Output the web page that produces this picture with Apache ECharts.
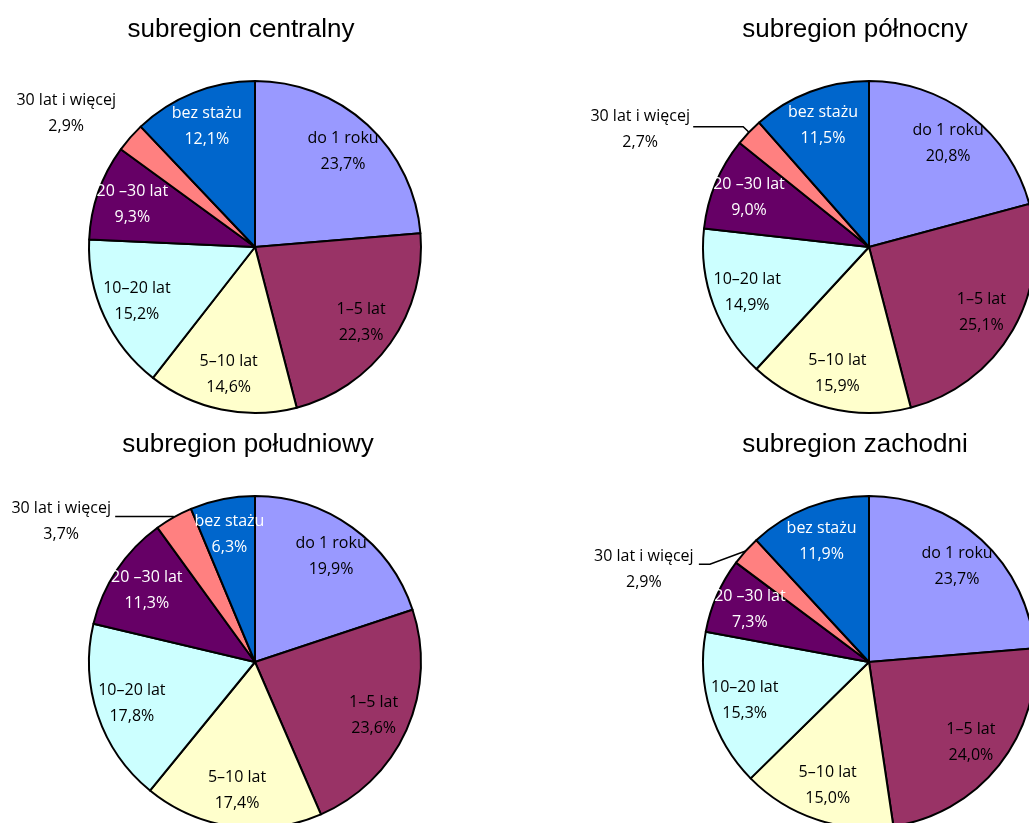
<!DOCTYPE html>
<html>
<head>
<meta charset="utf-8">
<script src="https://cdn.jsdelivr.net/npm/echarts@6/dist/echarts.min.js"></script>
<style>
html,body{margin:0;padding:0;background:#fff;}
#chart{width:1029px;height:823px;}
</style>
</head>
<body>
<div id="chart"></div>
<script>
// ---- data ----
const categories = ['do 1 roku', '1–5 lat', '5–10 lat', '10–20 lat', '20 –30 lat', '30 lat i więcej', 'bez stażu'];
const titles = ['subregion centralny', 'subregion północny', 'subregion południowy', 'subregion zachodni'];
const centralny = [23.7, 22.3, 14.6, 15.2, 9.3, 2.9, 12.1];
const polnocny = [20.8, 25.1, 15.9, 14.9, 9.0, 2.7, 11.5];
const poludniowy = [19.9, 23.6, 17.4, 17.8, 11.3, 3.7, 6.3];
const zachodni = [23.7, 24.0, 15.0, 15.3, 7.3, 2.9, 11.9];
const seriesValues = [centralny, polnocny, poludniowy, zachodni];

// ---- styles / layout ----
const colors = ['#9999FF', '#993366', '#FFFFCC', '#CCFFFF', '#660066', '#FF8080', '#0066CC'];
const labelColors = ['#000', '#000', '#000', '#000', '#fff', '#000', '#fff'];
const outsideIndex = 5;
const layouts = [
  {center: [255, 247], title: [241, 17], len: 24, len2: 0, line: false, top: 0, bottom: 17, dist: -5, bend: false},
  {center: [869, 247], title: [855, 17], len: 8, len2: 50, line: true, top: 6, bottom: 0, dist: 2, bend: false},
  {center: [255, 662], title: [248, 432], len: 1, len2: 58, line: true, top: 11, bottom: 0, dist: 3, bend: false},
  {center: [869, 662], title: [855, 432], len: 1, len2: 48, line: true, top: 38, bottom: 0, dist: 2, bend: true}
];
const R = 166;
const labelFont = 'Open Sans';
const fmt = v => v.toFixed(1).replace('.', ',') + '%';

const series = [];
seriesValues.forEach((vals, k) => {
  const L = layouts[k];
  const s = {
    type: 'pie',
    center: L.center,
    radius: [0, R],
    startAngle: 90,
    clockwise: true,
    avoidLabelOverlap: false,
    silent: true,
    animation: false,
    itemStyle: {borderColor: '#000', borderWidth: 2},
    label: {show: false},
    labelLine: {show: false},
    emphasis: {disabled: true},
    data: vals.map((v, i) => {
      const item = {name: categories[i], value: v, itemStyle: {color: colors[i]}};
      if (i === outsideIndex) {
        item.label = {
          show: true, position: 'outside', alignTo: 'none',
          distanceToLabelLine: L.dist, bleedMargin: 0, overflow: 'none',
          formatter: p => {
            let t = '{a|' + p.name + '}\n{a|' + fmt(p.value) + '}';
            if (L.top) t = '{t| }\n' + t;
            if (L.bottom) t = t + '\n{b| }';
            return t;
          },
          rich: {
            a: {fontFamily: labelFont, fontSize: 16, lineHeight: 26, color: '#000', width: 102, align: 'center'},
            t: {fontSize: 1, lineHeight: L.top || 1, height: L.top || 1},
            b: {fontSize: 1, lineHeight: L.bottom || 1, height: L.bottom || 1}
          }
        };
        item.labelLine = {
          show: L.line, length: L.len, length2: L.len2, smooth: false,
          lineStyle: {color: '#000', width: 1.5}
        };
      }
      return item;
    })
  };
  if (L.bend) {
    // leader line bent down to the middle of the (shifted) text block
    s.labelLayout = function (p) {
      if (!p.labelLinePoints || !p.labelRect) return {hideOverlap: false};
      const r = p.labelRect;
      const yMid = r.y + r.height - 26;
      const xEnd = r.x + r.width + 4;
      return {
        hideOverlap: false,
        labelLinePoints: [p.labelLinePoints[0], [xEnd + 11, yMid], [xEnd, yMid]]
      };
    };
  } else {
    s.labelLayout = {hideOverlap: false};
  }
  series.push(s);
  // label carrier pie (transparent) placing inside labels at ~0.77 R
  series.push({
    type: 'pie',
    center: L.center,
    radius: [88, R],
    startAngle: 90,
    clockwise: true,
    avoidLabelOverlap: false,
    silent: true,
    animation: false,
    labelLayout: {hideOverlap: false},
    z: 5,
    itemStyle: {color: 'rgba(0,0,0,0)', borderWidth: 0},
    labelLine: {show: false},
    emphasis: {disabled: true},
    data: vals.map((v, i) => ({
      name: categories[i], value: v,
      label: {
        show: i !== outsideIndex, position: 'inside',
        formatter: p => p.name + '\n' + fmt(p.value),
        fontFamily: labelFont, fontSize: 16, lineHeight: 26,
        color: labelColors[i]
      }
    }))
  });
});

const chart = echarts.init(document.getElementById('chart'), null, {renderer: 'canvas'});
chart.setOption({
  backgroundColor: '#fff',
  animation: false,
  title: titles.map((t, k) => ({
    text: t,
    left: layouts[k].title[0],
    top: layouts[k].title[1],
    textAlign: 'center',
    padding: 0,
    textStyle: {fontFamily: 'Liberation Sans', fontSize: 26, fontWeight: 'normal', color: '#000'}
  })),
  series: series
});
</script>
</body>
</html>
